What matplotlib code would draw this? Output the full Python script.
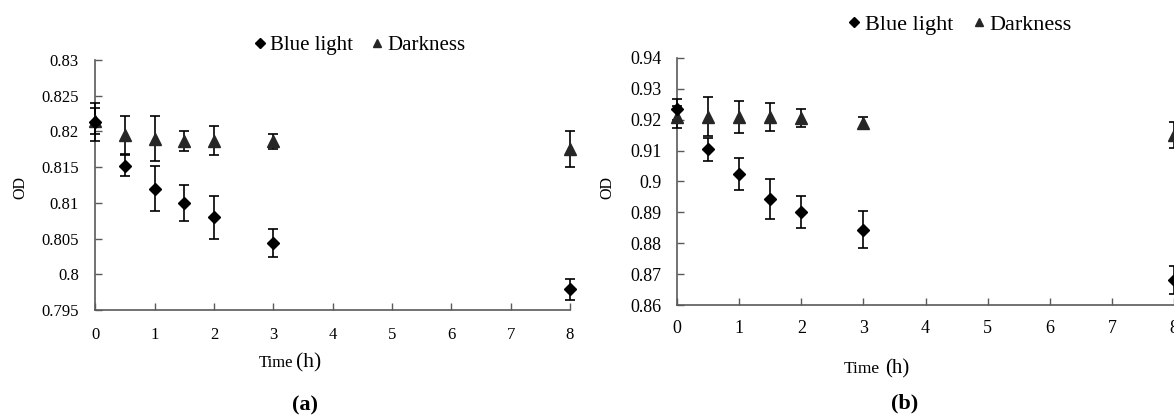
import matplotlib.pyplot as plt
from matplotlib.ticker import FuncFormatter, MultipleLocator

plt.rcParams["font.family"] = ["Liberation Serif", "DejaVu Serif"]

# time points (h)
time_h = [0, 0.5, 1, 1.5, 2, 3, 8]

# panel (a)
blue_a = [0.8213, 0.8152, 0.8120, 0.8100, 0.8080, 0.8044, 0.7979]
blue_a_err = [0.0027, 0.0015, 0.0032, 0.0025, 0.0030, 0.0020, 0.0015]
dark_a = [0.8215, 0.8195, 0.8190, 0.8187, 0.8187, 0.8186, 0.8175]
dark_a_err = [0.0018, 0.0026, 0.0031, 0.0014, 0.0020, 0.0010, 0.0025]

# panel (b)
blue_b = [0.9234, 0.9104, 0.9024, 0.8942, 0.8902, 0.8843, 0.8681]
blue_b_err = [0.0034, 0.0037, 0.0052, 0.0065, 0.0052, 0.0060, 0.0046]
dark_b = [0.9208, 0.9210, 0.9208, 0.9208, 0.9205, 0.9190, 0.9150]
dark_b_err = [0.0035, 0.0064, 0.0051, 0.0045, 0.0030, 0.0019, 0.0043]

AXIS_GREY = "#5a5a5a"
W, H = 1174, 416


def fx(px):
    return px / W


def fy(py):
    return 1 - py / H


def style_axes(ax, ylim, ystep, tick_fs, xpad, ypad):
    ax.set_xlim(0, 8)
    ax.set_ylim(*ylim)
    ax.xaxis.set_major_locator(MultipleLocator(1))
    ax.yaxis.set_major_locator(MultipleLocator(ystep))
    ax.yaxis.set_major_formatter(FuncFormatter(lambda v, _: f"{round(v, 4):g}"))
    for side in ("top", "right"):
        ax.spines[side].set_visible(False)
    for side in ("left", "bottom"):
        ax.spines[side].set_color(AXIS_GREY)
        ax.spines[side].set_linewidth(1.2)
    ax.tick_params(axis="both", direction="in", length=5, width=1, color=AXIS_GREY,
                   labelsize=tick_fs)
    ax.tick_params(axis="x", pad=xpad)
    ax.tick_params(axis="y", pad=ypad)


def draw_series(ax, blue, blue_err, dark, dark_err):
    kw = dict(linestyle="none", ecolor="black", elinewidth=1.2, capsize=3.5,
              capthick=1.2, clip_on=False, zorder=3)
    hd = ax.errorbar(time_h, dark, yerr=dark_err, marker="^", ms=8,
                     color="#262626", **kw)
    hb = ax.errorbar(time_h, blue, yerr=blue_err, marker="D", ms=6.5,
                     color="black", **kw)
    return hb[0], hd[0]


fig = plt.figure(figsize=(11.74, 4.16), dpi=100)

ax_a = fig.add_axes([0.0813, 0.2548, 0.4042, 0.601])
ax_b = fig.add_axes([0.5767, 0.2668, 0.4233, 0.594])

style_axes(ax_a, (0.795, 0.83), 0.005, 12, 12, 12)
style_axes(ax_b, (0.86, 0.94), 0.01, 13, 11, 11)

hb_a, hd_a = draw_series(ax_a, blue_a, blue_a_err, dark_a, dark_a_err)
hb_b, hd_b = draw_series(ax_b, blue_b, blue_b_err, dark_b, dark_b_err)

leg_kw = dict(loc="center", ncol=2, frameon=False, handlelength=0.5,
              handletextpad=0.25, columnspacing=0.9, markerscale=0.75)
fig.legend([hb_a, hd_a], ["Blue light", "Darkness"], fontsize=15,
           bbox_to_anchor=(fx(360), fy(45)), **leg_kw)
fig.legend([hb_b, hd_b], ["Blue light", "Darkness"], fontsize=16,
           bbox_to_anchor=(fx(960), fy(25)), **leg_kw)

# axis titles
fig.text(fx(20), fy(187), "OD", rotation=90, ha="center", va="center", fontsize=11.5)
fig.text(fx(607), fy(187), "OD", rotation=90, ha="center", va="center", fontsize=11.5)

fig.text(fx(293), fy(367), "Time", ha="right", va="baseline", fontsize=12)
fig.text(fx(296), fy(367), "(h)", ha="left", va="baseline", fontsize=15.5)
fig.text(fx(880), fy(373), "Time", ha="right", va="baseline", fontsize=12.5)
fig.text(fx(885), fy(373), "(h)", ha="left", va="baseline", fontsize=15)

# panel captions
fig.text(fx(305), fy(405), "(a)", ha="center", va="center", fontsize=16,
         fontweight="bold")
fig.text(fx(905), fy(403), "(b)", ha="center", va="center", fontsize=16,
         fontweight="bold")

fig.savefig("out.png", dpi=100)
